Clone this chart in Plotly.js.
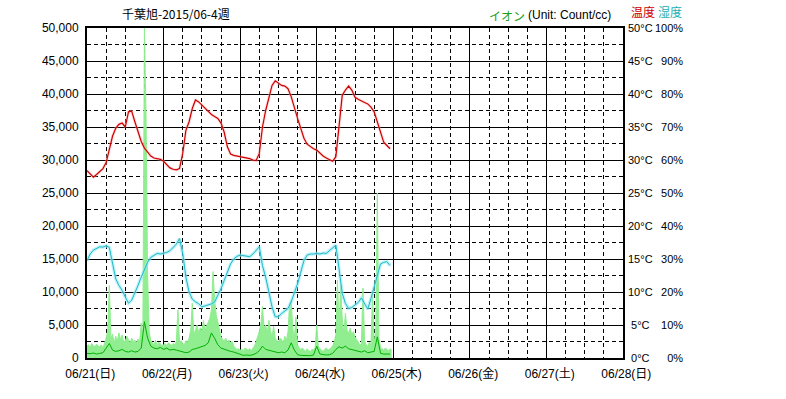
<!DOCTYPE html>
<html>
<head>
<meta charset="utf-8">
<script src="https://cdn.plot.ly/plotly-3.0.1.min.js"></script>
<style>html,body{margin:0;padding:0;background:#fff}#chart{width:786px;height:399px}</style>
</head>
<body>
<div id="chart"></div>
<script>
// ---- data ----
const chartTitle = "千葉旭-2015/06-4週";
const dayTickHours = [0, 24, 48, 72, 96, 120, 144, 168];
const dayTickLabels = ["\u200706/21(日)", "\u200706/22(月)", "\u200706/23(火)", "\u200706/24(水)", "\u200706/25(木)", "\u200706/26(金)", "\u200706/27(土)", "\u200706/28(日)"];

const tempTickVals = [0, 5, 10, 15, 20, 25, 30, 35, 40, 45, 50];
const tempTickLabels = ["\u20080°C", "\u20085°C", "10°C", "15°C", "20°C", "25°C", "30°C", "35°C", "40°C", "45°C", "50°C"];
const humTickVals = [0, 10, 20, 30, 40, 50, 60, 70, 80, 90, 100];
const humTickLabels = ["\u2007\u20070%", "\u200710%", "\u200720%", "\u200730%", "\u200740%", "\u200750%", "\u200760%", "\u200770%", "\u200780%", "\u200790%", "100%"];

// hourly temperature (°C), from 06/21 00:00
const temperature = [
  28.4, 27.9, 27.4, 27.8, 28.2, 28.7, 29.6, 31.5, 33.6, 34.8, 35.4, 35.6,
  35.0, 37.3, 37.4, 35.8, 34.2, 32.8, 31.8, 31.2, 30.6, 30.3, 30.2, 30.1,
  29.8, 29.3, 28.8, 28.6, 28.5, 28.7, 31.0, 34.5, 35.8, 37.8, 39.1, 38.8,
  38.3, 37.8, 37.3, 36.9, 36.6, 36.3, 35.6, 34.2, 32.0, 30.9, 30.7, 30.6,
  30.6, 30.5, 30.4, 30.2, 30.0, 29.9, 31.0, 35.0, 37.5, 39.5, 41.3, 42.0,
  41.6, 41.3, 41.2, 40.8, 39.6, 37.8, 36.3, 34.8, 33.3, 32.4, 32.0, 31.7,
  31.5, 31.0, 30.6, 30.3, 30.0, 29.8, 30.5, 35.5, 39.8, 40.6, 41.2, 40.6,
  39.5, 39.2, 38.9, 38.7, 38.5, 38.0, 37.3, 35.8, 34.0, 32.7, 32.2, 31.7
];

// hourly humidity (%)
const humidity = [
  29.5, 31.5, 32.7, 33.2, 33.7, 33.6, 34.0, 33.5, 29.0, 24.0, 22.0, 20.5,
  18.5, 16.6, 17.5, 19.5, 22.0, 24.5, 27.0, 29.0, 30.5, 31.2, 31.7, 31.5,
  31.7, 32.0, 32.5, 33.5, 34.5, 36.2, 31.7, 24.5, 20.0, 17.8, 17.0, 16.5,
  15.5, 15.8, 16.0, 16.4, 17.0, 18.8, 21.0, 23.5, 25.8, 28.5, 30.0, 30.8,
  31.2, 31.0, 30.8, 30.7, 31.5, 32.5, 33.7, 28.0, 24.5, 20.0, 15.5, 12.5,
  12.5, 13.5, 14.3, 15.0, 17.0, 19.5, 22.5, 26.0, 29.5, 31.2, 31.5, 31.5,
  31.7, 31.5, 31.8, 31.7, 32.5, 33.2, 34.2, 27.0, 19.6, 16.5, 15.0, 15.3,
  16.0, 16.8, 18.2, 16.5, 14.8, 18.0, 21.5, 25.5, 28.5, 29.0, 29.2, 28.0
];

// half-hourly ion maximum (count/cc)
const ionMax = [
  1800, 2000, 1600, 2200, 1900, 1700, 2100, 1800, 1700, 2000, 1500, 2300,
  3000, 4200, 11000, 3000, 3600, 2200, 3300, 2500, 3800, 2800, 3500, 2400,
  2600, 3300, 2800, 2200, 3000, 2500, 2700, 2300, 2900, 2400, 5300, 3200,
  50000, 37000, 12500, 4000, 2600, 2200, 2000, 2700, 1800, 2400, 2100, 1900,
  2000, 2200, 1800, 2300, 2100, 1900, 2200, 2000, 2500, 7300, 2300, 2600,
  2200, 2000, 2600, 2400, 3000, 4200, 8300, 3600, 4200, 5000, 3800, 4600,
  4000, 5700, 4300, 4800, 5300, 6000, 7300, 13100, 8800, 6500, 5500, 4000,
  3200, 2800, 2600, 3000, 2400, 2700, 2300, 2500, 1800, 1500, 1300, 1400,
  1200, 1300, 1100, 1500, 1300, 1200, 1400, 1100, 1500, 1800, 2500, 3200,
  4000, 5200, 7800, 4500, 5000, 3800, 5700, 4200, 3200, 4800, 3000, 2600,
  2400, 3000, 2800, 2200, 3300, 2600, 4000, 8300, 8800, 4500, 3000, 6200,
  2000, 1500, 1300, 1500, 1200, 1000, 1400, 1100, 1000, 1300, 1200, 1500,
  5000, 1800, 1400, 1200, 1000, 1300, 1500, 1200, 1300, 1600, 1800, 2500,
  3500, 11800, 4500, 11000, 6000, 3800, 6800, 4200, 3800, 4500, 3500, 4000,
  3200, 2800, 2300, 2000, 2200, 10600, 2600, 2000, 1800, 2400, 2000, 10000,
  2200, 3900, 25000, 3000, 1600, 1400, 1200, 1500, 1300, 1100, 1400, 1200
];

// hourly ion average (count/cc)
const ionAvg = [
  700, 650, 750, 600, 700, 800, 1500, 2200, 1200, 1000, 1100, 1300,
  1000, 900, 1100, 900, 1000, 1500, 5500, 3000, 1800, 1500, 1400, 1600,
  1300, 1500, 1200, 1300, 1200, 1100, 900, 800, 900, 1300, 1400, 1600,
  1800, 1900, 2300, 3800, 3000, 2000, 1500, 1300, 1100, 1000, 900, 700,
  500, 400, 450, 400, 500, 700, 1100, 1800, 1300, 1200, 1000, 900,
  800, 900, 800, 1200, 2300, 1200, 500, 400, 350, 400, 350, 450,
  1800, 600, 500, 450, 500, 700, 1300, 1700, 1500, 1800, 1400, 1300,
  1200, 1000, 900, 1100, 800, 900, 1000, 3200, 700, 600, 550, 600
];

const hourX = temperature.map((_, i) => i);
const halfHourX = ionMax.map((_, i) => i * 0.5);
const avgX = ionAvg.map((_, i) => i);

const traces = [
  {x: halfHourX, y: ionMax, type: 'scatter', mode: 'lines', fill: 'tozeroy',
   fillcolor: '#90ee90', line: {color: '#90ee90', width: 1}, yaxis: 'y', hoverinfo: 'skip'},
  {x: avgX, y: ionAvg, type: 'scatter', mode: 'lines',
   line: {color: '#00b000', width: 1}, yaxis: 'y', hoverinfo: 'skip'},
  {x: hourX, y: humidity, type: 'scatter', mode: 'lines',
   line: {color: 'rgba(150,235,245,0.6)', width: 3.5}, yaxis: 'y3', hoverinfo: 'skip'},
  {x: hourX, y: humidity, type: 'scatter', mode: 'lines',
   line: {color: '#20b8c8', width: 1}, yaxis: 'y3', hoverinfo: 'skip'},
  {x: hourX, y: temperature, type: 'scatter', mode: 'lines',
   line: {color: 'rgba(255,180,180,0.45)', width: 3}, yaxis: 'y2', hoverinfo: 'skip'},
  {x: hourX, y: temperature, type: 'scatter', mode: 'lines',
   line: {color: '#cc0000', width: 1.2}, yaxis: 'y2', hoverinfo: 'skip'}
];

const W = 786, H = 399, L = 87, R = 20, T = 28, B = 41;
const plotRight = 623;
const pw = W - L - R, ph = H - T - B;
const px = v => (v - L) / pw;
const py = v => (H - B - v) / ph;

const baseFont = {family: 'Liberation Sans, Noto Sans CJK JP, sans-serif', size: 12, color: '#000'};
const rightFont = {family: 'Liberation Sans, sans-serif', size: 11, color: '#000'};

const layout = {
  width: W, height: H,
  margin: {l: L, r: R, t: T, b: B, pad: 0},
  paper_bgcolor: '#fff', plot_bgcolor: '#fff',
  showlegend: false,
  font: baseFont,
  xaxis: {
    domain: [0, px(plotRight)],
    range: [0, 168], tickmode: 'array', tickvals: dayTickHours, ticktext: dayTickLabels,
    showgrid: true, gridcolor: '#000', gridwidth: 1,
    minor: {dtick: 6, tick0: 0, showgrid: true, gridcolor: '#000', griddash: '4px,3px', gridwidth: 1},
    showline: true, linecolor: '#000', linewidth: 2, mirror: true,
    ticks: 'outside', ticklen: 4, tickcolor: 'rgba(0,0,0,0)', zeroline: false, fixedrange: true
  },
  yaxis: {
    range: [0, 50000], dtick: 5000, tick0: 0, tickformat: ',d',
    showgrid: true, gridcolor: '#000', gridwidth: 1,
    minor: {dtick: 2500, tick0: 0, showgrid: true, gridcolor: '#000', griddash: '4px,3px', gridwidth: 1},
    showline: true, linecolor: '#000', linewidth: 2, mirror: true,
    ticks: 'outside', ticklen: 4, tickcolor: 'rgba(0,0,0,0)', zeroline: false, fixedrange: true
  },
  yaxis2: {
    overlaying: 'y', side: 'right', anchor: 'free', position: px(627),
    range: [0, 50], tickmode: 'array', tickvals: tempTickVals, ticktext: tempTickLabels,
    tickfont: rightFont,
    showgrid: false, showline: false, ticks: '', zeroline: false, fixedrange: true
  },
  yaxis3: {
    overlaying: 'y', side: 'right', anchor: 'free', position: px(654),
    range: [0, 100], tickmode: 'array', tickvals: humTickVals, ticktext: humTickLabels,
    tickfont: rightFont,
    showgrid: false, showline: false, ticks: '', zeroline: false, fixedrange: true
  },
  annotations: [
    {text: chartTitle, xref: 'paper', yref: 'paper', x: px(120), y: py(13), xanchor: 'left', yanchor: 'middle',
     showarrow: false, font: {family: 'Noto Sans CJK JP, Liberation Sans, sans-serif', size: 12, color: '#000'}},
    {text: 'イオン', xref: 'paper', yref: 'paper', x: px(487), y: py(15), xanchor: 'left', yanchor: 'middle',
     showarrow: false, font: {family: 'Noto Sans CJK JP, sans-serif', size: 12, color: '#1aa01a'}},
    {text: '(Unit: Count/cc)', xref: 'paper', yref: 'paper', x: px(613), y: py(15), xanchor: 'right', yanchor: 'middle',
     showarrow: false, font: {family: 'Liberation Sans, sans-serif', size: 12, color: '#000'}},
    {text: '温度', xref: 'paper', yref: 'paper', x: px(629), y: py(12), xanchor: 'left', yanchor: 'middle',
     showarrow: false, font: {family: 'Noto Sans CJK JP, sans-serif', size: 12, color: '#cc0000'}},
    {text: '湿度', xref: 'paper', yref: 'paper', x: px(656), y: py(12), xanchor: 'left', yanchor: 'middle',
     showarrow: false, font: {family: 'Noto Sans CJK JP, sans-serif', size: 12, color: '#20b0b8'}}
  ]
};

Plotly.newPlot('chart', traces, layout, {displayModeBar: false, staticPlot: true});
</script>
</body>
</html>
